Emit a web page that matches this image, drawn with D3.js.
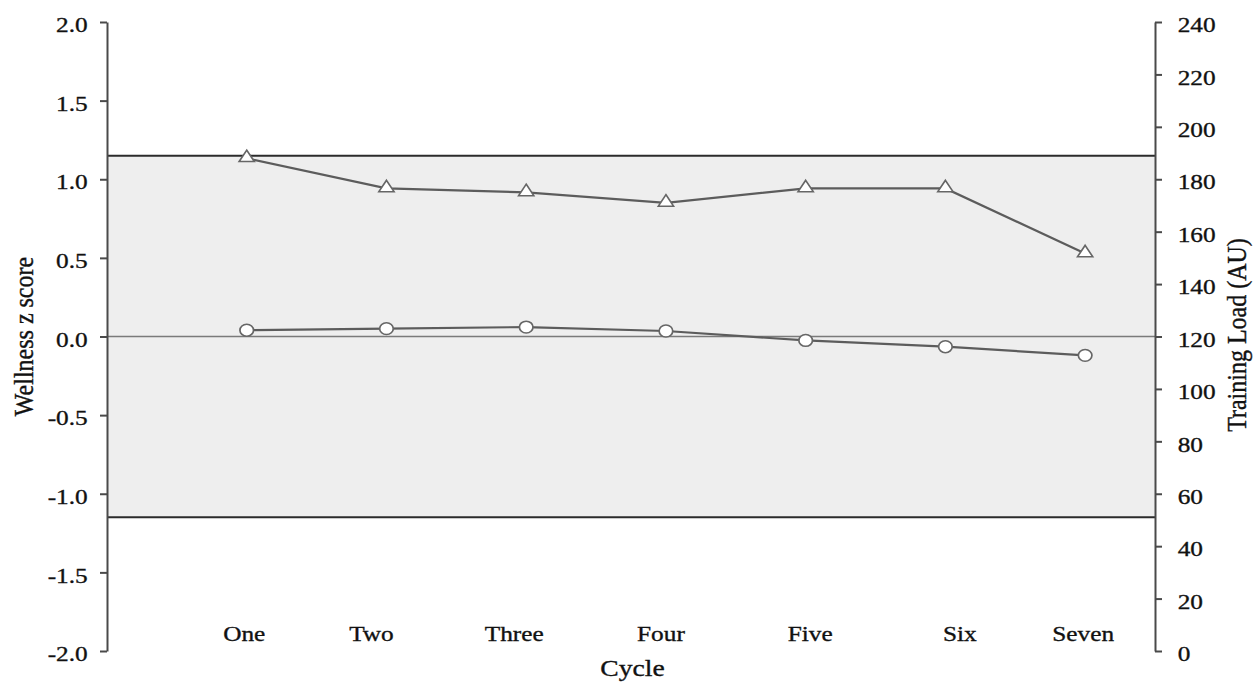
<!DOCTYPE html>
<html>
<head>
<meta charset="utf-8">
<script src="https://cdn.jsdelivr.net/npm/d3@7"></script>
<style>
  html, body { margin: 0; padding: 0; background: #fff; }
  svg { display: block; }
  text { font-family: "Liberation Serif", "Times New Roman", serif; fill: #111; stroke: #111; stroke-width: 0.35px; }
</style>
</head>
<body>
<svg id="chart" width="1253" height="683"></svg>
<script>
// Cycle categories and the two series
const cycles = ["One", "Two", "Three", "Four", "Five", "Six", "Seven"];
const trainingLoad = [188, 176.5, 175, 171, 176.5, 176.5, 151.7];   // AU, right axis
const wellnessZ = [0.04, 0.05, 0.06, 0.035, -0.025, -0.065, -0.12];  // z score, left axis
const bandLimits = [-1.15, 1.15];                                      // shaded normal range
const leftTicks = [-2.0, -1.5, -1.0, -0.5, 0.0, 0.5, 1.0, 1.5, 2.0];
const rightTicks = [0, 20, 40, 60, 80, 100, 120, 140, 160, 180, 200, 220, 240];

const svg = d3.select("#chart");
const plotLeft = 107, plotRight = 1155, plotTop = 22, plotBottom = 651;
const sx = 1.15; // horizontal text/marker stretch
// hand-placed nudges of the cycle labels relative to their points
const labelNudge = [-2.5, -15, -12, -5, 4.5, 14.5, -2];

// x: cycles sit at 1..7 on a 0..7.5 span
const x = d3.scaleLinear().domain([0, 7.5]).range([plotLeft, plotRight]);
const yL = d3.scaleLinear().domain([-2, 2]).range([plotBottom, plotTop]);
const yR = d3.scaleLinear().domain([0, 240]).range([plotBottom, plotTop]);

// shaded band
svg.append("rect")
  .attr("x", plotLeft).attr("width", plotRight - plotLeft)
  .attr("y", yL(bandLimits[1])).attr("height", yL(bandLimits[0]) - yL(bandLimits[1]))
  .attr("fill", "#eeeeee");
bandLimits.forEach(v => {
  svg.append("line")
    .attr("x1", plotLeft).attr("x2", plotRight)
    .attr("y1", yL(v)).attr("y2", yL(v))
    .attr("stroke", "#2b2b2b").attr("stroke-width", 2);
});
// zero line
svg.append("line")
  .attr("x1", plotLeft).attr("x2", plotRight)
  .attr("y1", yL(0)).attr("y2", yL(0))
  .attr("stroke", "#7a7a7a").attr("stroke-width", 1.5);

// series lines
const loadLine = d3.line().x((d, i) => x(i + 1)).y(d => yR(d));
const wellLine = d3.line().x((d, i) => x(i + 1)).y(d => yL(d));
svg.append("path").datum(trainingLoad).attr("d", loadLine)
  .attr("fill", "none").attr("stroke", "#5c5c5c").attr("stroke-width", 2.2);
svg.append("path").datum(wellnessZ).attr("d", wellLine)
  .attr("fill", "none").attr("stroke", "#5c5c5c").attr("stroke-width", 2.2);

// markers
const tri = d3.symbol().type(d3.symbolTriangle).size(76);
const circ = d3.symbol().type(d3.symbolCircle).size(110);
svg.append("g").selectAll("path").data(trainingLoad).join("path")
  .attr("d", tri)
  .attr("transform", (d, i) => `translate(${x(i + 1)},${yR(d) - 0.5}) scale(${sx},1)`)
  .attr("fill", "#fff").attr("stroke", "#666").attr("stroke-width", 1.5);
svg.append("g").selectAll("path").data(wellnessZ).join("path")
  .attr("d", circ)
  .attr("transform", (d, i) => `translate(${x(i + 1)},${yL(d)}) scale(${sx},1)`)
  .attr("fill", "#fff").attr("stroke", "#666").attr("stroke-width", 1.5);

// axes
const axL = d3.axisLeft(yL).tickValues(leftTicks).tickFormat(d => d.toFixed(1))
  .tickSizeOuter(0).tickSizeInner(7).tickPadding(9.8);
const axR = d3.axisRight(yR).tickValues(rightTicks).tickFormat(d => String(d))
  .tickSizeOuter(0).tickSizeInner(7).tickPadding(12.7);

function styleAxis(g) {
  g.select(".domain").attr("stroke", "#4a4a4a").attr("stroke-width", 2);
  g.selectAll(".tick line").attr("stroke", "#4a4a4a").attr("stroke-width", 2);
  g.selectAll(".tick text")
    .attr("font-family", "Liberation Serif, serif")
    .attr("font-size", 22).attr("fill", "#111")
    .attr("dy", "0.44em")
    .attr("transform", `scale(${sx},1)`);
}
svg.append("g").attr("transform", `translate(${plotLeft},0)`).call(axL).call(styleAxis);
svg.append("g").attr("transform", `translate(${plotRight},0)`).call(axR).call(styleAxis);

// category labels
svg.append("g").selectAll("text").data(cycles).join("text")
  .attr("transform", (d, i) => `translate(${x(i + 1) + labelNudge[i]},641) scale(${sx},1)`)
  .attr("text-anchor", "middle").attr("font-size", 22)
  .text(d => d);

// axis titles
svg.append("text")
  .attr("transform", `translate(632.5,676) scale(${sx},1)`)
  .attr("text-anchor", "middle").attr("font-size", 24)
  .text("Cycle");
svg.append("text")
  .attr("transform", `translate(33,336.5) scale(${sx},1) rotate(-90)`)
  .attr("text-anchor", "middle").attr("font-size", 24)
  .text("Wellness z score");
svg.append("text")
  .attr("transform", `translate(1246,335) scale(${sx},1) rotate(-90)`)
  .attr("text-anchor", "middle").attr("font-size", 24)
  .text("Training Load (AU)");
</script>
</body>
</html>
